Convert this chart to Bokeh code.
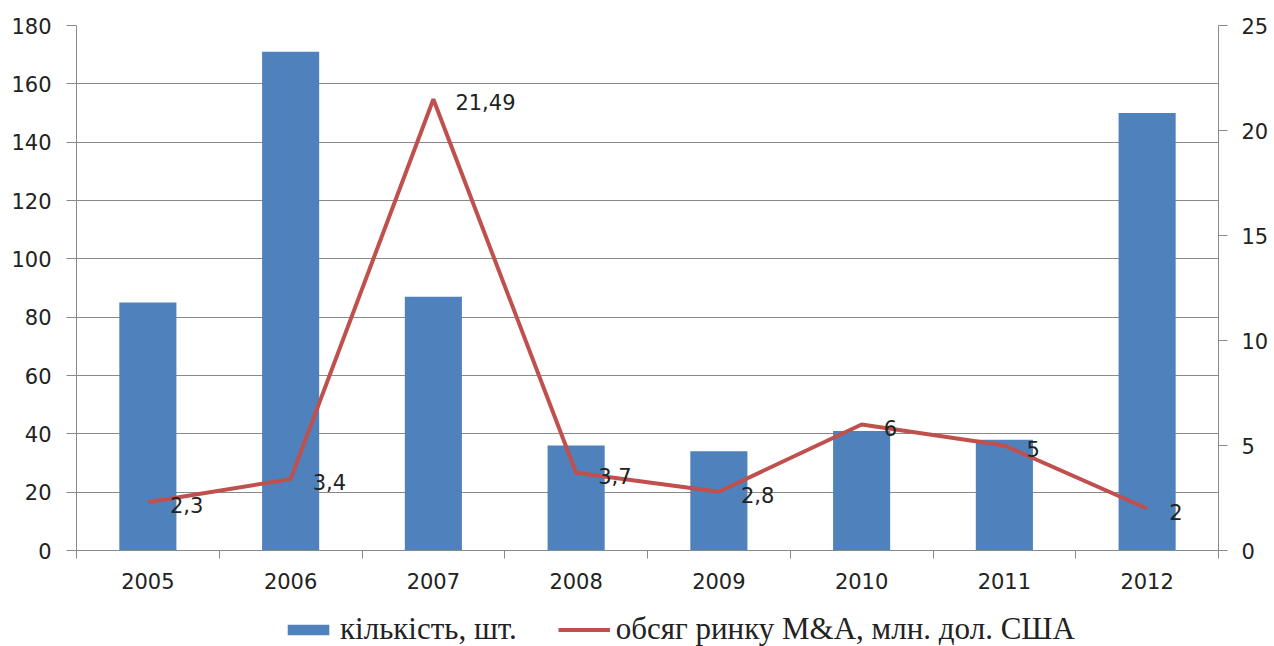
from bokeh.plotting import figure
from bokeh.layouts import column
from bokeh.models import (Range1d, LinearAxis, FixedTicker, Legend, LegendItem,
                          ColumnDataSource)
from bokeh.core.properties import value
from bokeh.embed import file_html
from bokeh.resources import INLINE

years = ["2005", "2006", "2007", "2008", "2009", "2010", "2011", "2012"]
counts = [85, 171, 87, 36, 34, 41, 38, 150]
volume = [2.3, 3.4, 21.49, 3.7, 2.8, 6, 5, 2]
bar_label = "кількість, шт."
line_label = "обсяг ринку М&A, млн. дол. США"

idx = list(range(len(years)))
vol_labels = [f"{v:g}".replace(".", ",") for v in volume]

src = ColumnDataSource(dict(x=idx, counts=counts, volume=volume, lab=vol_labels))

GRID = "#898989"
TXT = "#222222"
TICK_FONT = "DejaVu Sans"
BAR_COLOR = "#4F81BD"
LINE_COLOR = "#C0504D"

W = 1274
H_MAIN = 594
H_LEG = 52

p = figure(width=W, height=H_MAIN, output_backend="svg", toolbar_location=None,
           x_range=Range1d(-0.5, len(years) - 0.5), y_range=Range1d(0, 180),
           min_border_left=76, min_border_right=56, min_border_top=25,
           min_border_bottom=44, outline_line_color=None,
           background_fill_color="white", border_fill_color="white")
p.extra_y_ranges = {"vol": Range1d(0, 25)}

bars = p.vbar(x="x", top="counts", width=0.4, source=src,
              fill_color=BAR_COLOR, line_color=None)
line = p.line(x="x", y="volume", source=src, y_range_name="vol",
              line_color=LINE_COLOR, line_width=4)
p.text(x="x", y="volume", text="lab", source=src, y_range_name="vol",
       x_offset=22, y_offset=3, text_align="left", text_baseline="middle",
       text_font=value(TICK_FONT), text_font_size="21px", text_color=TXT)

# x axis
xa = p.xaxis[0]
xa.ticker = FixedTicker(ticks=idx, minor_ticks=[i - 0.5 for i in range(len(years) + 1)])
xa.major_label_overrides = {i: y for i, y in zip(idx, years)}
xa.major_tick_line_color = None
xa.major_tick_out = 0
xa.major_tick_in = 0
xa.minor_tick_line_color = GRID
xa.minor_tick_out = 8
xa.minor_tick_in = 0
xa.axis_line_color = GRID
xa.major_label_standoff = 14
xa.major_label_text_font = TICK_FONT
xa.major_label_text_font_size = "21px"
xa.major_label_text_color = TXT

# left axis
ya = p.yaxis[0]
ya.ticker = FixedTicker(ticks=list(range(0, 181, 20)))
ya.minor_tick_line_color = None
ya.major_tick_out = 10
ya.major_tick_in = 0
ya.major_tick_line_color = GRID
ya.axis_line_color = GRID
ya.major_label_standoff = 15
ya.major_label_text_font = TICK_FONT
ya.major_label_text_font_size = "21px"
ya.major_label_text_color = TXT

# right axis
ra = LinearAxis(y_range_name="vol", ticker=FixedTicker(ticks=list(range(0, 26, 5))))
ra.minor_tick_line_color = None
ra.major_tick_out = 9
ra.major_tick_in = 0
ra.major_tick_line_color = GRID
ra.axis_line_color = GRID
ra.major_label_standoff = 14
ra.major_label_text_font = TICK_FONT
ra.major_label_text_font_size = "21px"
ra.major_label_text_color = TXT
p.add_layout(ra, "right")

p.xgrid.grid_line_color = None
p.ygrid.grid_line_color = GRID
p.ygrid.grid_line_width = 1
p.ygrid.ticker = FixedTicker(ticks=list(range(0, 181, 20)))

# legend strip below the chart (its frame is aligned with the chart frame)
pl = figure(width=W, height=H_LEG, output_backend="svg", toolbar_location=None,
            x_range=Range1d(0, 1), y_range=Range1d(0, 1),
            x_axis_location=None, y_axis_location=None,
            min_border=0, outline_line_color=None,
            background_fill_color="white", border_fill_color="white")
pl.grid.grid_line_color = None
offscreen = ColumnDataSource(dict(x=[-10, -9], top=[-10, -10], y=[-10, -10]))
leg_bar = pl.vbar(x="x", top="top", width=0.5, source=offscreen,
                  fill_color=BAR_COLOR, line_color=None)
leg_line = pl.line(x="x", y="y", source=offscreen, line_color=LINE_COLOR, line_width=4)

legend = Legend(items=[LegendItem(label=bar_label, renderers=[leg_bar]),
                       LegendItem(label=line_label, renderers=[leg_line])],
                orientation="horizontal", location=(206, -1),
                glyph_width=52, glyph_height=13, label_standoff=6, spacing=41,
                padding=0, margin=0, border_line_color=None,
                background_fill_alpha=0,
                label_text_font="Liberation Serif", label_text_font_size="31px",
                label_text_color=TXT)
pl.add_layout(legend, "center")

layout = column(p, pl, spacing=0)
open("out.html", "w").write(file_html(layout, INLINE))
